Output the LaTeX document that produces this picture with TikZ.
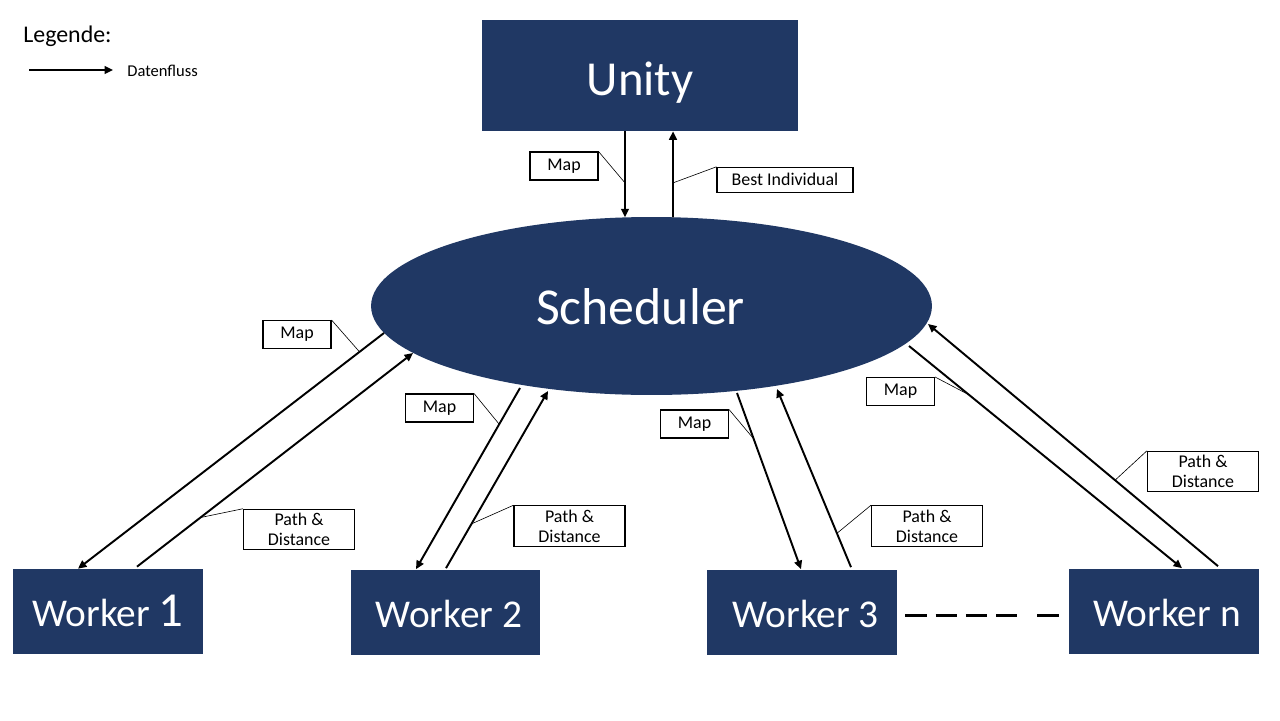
\documentclass[tikz,border=0pt]{standalone}
\usepackage{fontspec}
\setmainfont{Carlito}
\usetikzlibrary{arrows.meta,shapes.geometric,calc}
\definecolor{navy}{HTML}{203864}
\begin{document}
\begin{tikzpicture}[x=0.02cm,y=-0.02cm,
  block/.style={fill=navy, draw=none, inner sep=0pt, text=white},
  wbox/.style={block, minimum width=3.8cm, minimum height=1.7cm,
     font=\fontsize{22.4}{24}\selectfont, text height=17.4pt, text depth=0pt},
  lbl/.style={draw=black, line width=0.6pt, fill=white, inner sep=0pt,
     font=\fontsize{10.2}{11.3}\selectfont, align=center},
  maplbl/.style={lbl, minimum width=1.36cm, minimum height=0.56cm},
  pdlbl/.style={lbl, minimum width=2.22cm, minimum height=0.81cm},
  flow/.style={line width=1.1pt, -{Triangle[length=4.8pt,width=4.4pt]}},
  leader/.style={line width=0.35pt}]
\useasboundingbox (0,0) rectangle (1280,720);
\fill[white] (0,0) rectangle (1280,720);

% legend
\node[anchor=base west, inner sep=0pt, font=\fontsize{13.6}{16}\selectfont] (legend) at (23,42) {Legende:};
\coordinate (la) at (29,70);
\node[anchor=west, inner sep=0pt, font=\fontsize{9.4}{11}\selectfont] (lt) at (127,71) {Datenfluss};
\draw[flow] (la) -- (113,70) coordinate (lb);

% main blocks
\node[block, minimum width=6.32cm, minimum height=2.22cm,
      font=\fontsize{27.8}{30}\selectfont, text height=23.2pt, text depth=0pt] (unity) at (640,75.5) {Unity};
\node[block, ellipse, minimum width=11.22cm, minimum height=3.56cm,
      font=\fontsize{29.5}{32}\selectfont, text height=20.6pt, text depth=0pt] (sched) at (651.5,306) {\hspace*{-12.5pt}Scheduler};

\node[wbox] (w1) at (108,611.5) {Worker \fontsize{27.8}{30}\selectfont 1};
\node[wbox] (w2) at (445.5,612) {\hspace*{4pt}Worker 2};
\node[wbox] (w3) at (802,612) {\hspace*{4pt}Worker 3};
\node[wbox] (wn) at (1163.5,611) {\hspace*{4pt}Worker n};

\draw[line width=1.7pt, dash pattern=on 12.2pt off 5pt on 12.2pt off 5pt on 12.2pt off 5pt on 12.2pt off 11.4pt on 12.2pt off 100pt]
  (w3.east) ++(8,3) coordinate (d0) -- ($(wn.west)+(-9,4)$) coordinate (d1);

% Unity <-> Scheduler
\draw[flow] ($(unity.south)+(-15,0)$) -- coordinate[pos=0.6] (m0) ($(sched.north)+(-26.5,0.6)$);
\draw[flow] ($(sched.north)+(21.5,0.6)$) -- coordinate[pos=0.4] (b0) ($(unity.south)+(33,0)$);
\node[maplbl] (lm0) at (564,166) {Map};
\node[lbl, minimum width=2.72cm, minimum height=0.5cm] (lb0) at (785,179.8) {Best Individual};
\draw[leader] (lm0.north east) -- (m0);
\draw[leader] (lb0.north west) -- (b0);

% Scheduler <-> Worker 1
\draw[flow] (384,333) coordinate (s1a) -- coordinate[pos=0.08] (m1) ($(w1.north)+(-30,0)$);
\draw[flow] ($(w1.north)+(29,-2)$) -- coordinate[pos=0.23] (p1) (413,353) coordinate (s1b);
\node[maplbl] (lm1) at (297,334.5) {Map};
\node[pdlbl] (lp1) at (299,529.5) {Path \&\\Distance};
\draw[leader] (lm1.north east) -- (m1);
\draw[leader] (lp1.north west) -- (p1);

% Scheduler <-> Worker 2
\draw[flow] (520,388) coordinate (s2a) -- coordinate[pos=0.2] (m2) ($(w2.north)+(-29.5,0)$);
\draw[flow] ($(w2.north)+(0.5,-1)$) -- coordinate[pos=0.25] (p2) (548,391) coordinate (s2b);
\node[maplbl] (lm2) at (439.5,408) {Map};
\node[pdlbl] (lp2) at (569.5,526) {Path \&\\Distance};
\draw[leader] (lm2.north east) -- (m2);
\draw[leader] (lp2.north west) -- (p2);

% Scheduler <-> Worker 3
\draw[flow] (737,393) coordinate (s3a) -- coordinate[pos=0.26] (m3) ($(w3.north)+(-1,0)$);
\draw[flow] ($(w3.north)+(49,-2)$) -- coordinate[pos=0.19] (p3) (777,389) coordinate (s3b);
\node[maplbl] (lm3) at (694.5,424) {Map};
\node[pdlbl] (lp3) at (927,526) {Path \&\\Distance};
\draw[leader] (lm3.north east) -- (m3);
\draw[leader] (lp3.north west) -- (p3);

% Scheduler <-> Worker n
\draw[flow] (909,346) coordinate (s4a) -- coordinate[pos=0.22] (m4) ($(wn.north)+(18.5,0)$);
\draw[flow] ($(wn.north)+(54.5,-2)$) -- coordinate[pos=0.355] (p4) (928,324) coordinate (s4b);
\node[maplbl] (lm4) at (900.5,391.5) {Map};
\node[pdlbl] (lp4) at (1203,471.5) {Path \&\\Distance};
\draw[leader] (lm4.north east) -- (m4);
\draw[leader] (lp4.north west) -- (p4);
\end{tikzpicture}
\end{document}
